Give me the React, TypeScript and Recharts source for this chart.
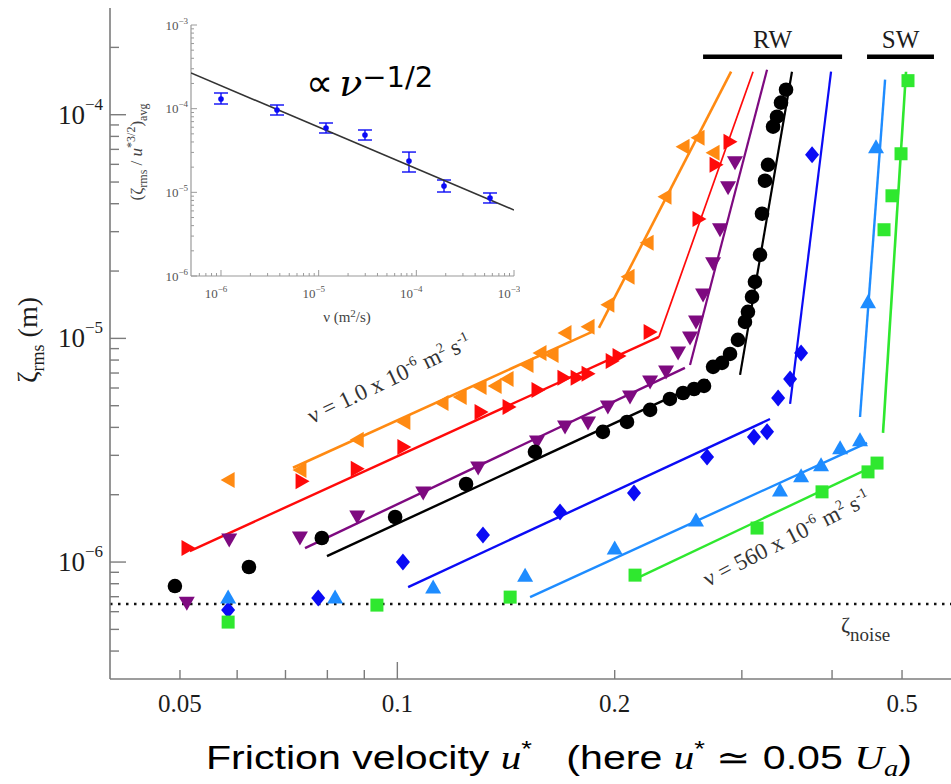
import React from "react";
import { ScatterChart, Scatter, XAxis, YAxis, ReferenceLine, ErrorBar } from "recharts";

type Pt = [number, number];

// ---- main panel: friction velocity u* (m/s) vs rms surface elevation (m) ----
const orangePts: Pt[] = [
  [0.0583, 2.33e-6], [0.0733, 2.58e-6], [0.088, 3.52e-6], [0.1021, 4.23e-6],
  [0.1153, 5.14e-6], [0.1222, 5.47e-6], [0.1302, 6.07e-6], [0.1366, 6.13e-6],
  [0.1419, 6.59e-6], [0.1512, 7.61e-6], [0.1576, 8.61e-6], [0.1638, 8.43e-6],
  [0.1707, 1.058e-5], [0.1837, 1.126e-5], [0.1957, 1.412e-5], [0.2087, 1.884e-5],
  [0.2218, 2.675e-5], [0.2348, 4.295e-5], [0.2487, 7.19e-5], [0.2609, 7.89e-5],
  [0.2737, 6.76e-5],
];
const orangeFitLow: Pt[] = [[0.0717, 2.64e-6], [0.186, 1.069e-5]];
const orangeFitHigh: Pt[] = [[0.1902, 1.114e-5], [0.2899, 1.557e-4]];

const redPts: Pt[] = [
  [0.0513, 1.155e-6], [0.0738, 2.3e-6], [0.088, 2.61e-6], [0.1021, 3.27e-6],
  [0.1306, 4.69e-6], [0.1428, 4.94e-6], [0.1566, 5.88e-6], [0.1701, 6.66e-6],
  [0.1774, 6.66e-6], [0.1837, 6.94e-6], [0.1984, 7.93e-6], [0.2028, 8.35e-6],
  [0.2239, 1.069e-5], [0.2617, 3.42e-5], [0.2763, 5.97e-5], [0.2889, 7.57e-5],
];
const redFitLow: Pt[] = [[0.0516, 1.12e-6], [0.2303, 1.016e-5]];
const redFitHigh: Pt[] = [[0.2303, 1.016e-5], [0.3109, 1.557e-4]];

const purplePts: Pt[] = [
  [0.0511, 6.55e-7], [0.0585, 1.254e-6], [0.0733, 1.281e-6], [0.088, 1.59e-6],
  [0.1086, 2.035e-6], [0.1294, 2.634e-6], [0.1561, 3.44e-6], [0.1707, 4.02e-6],
  [0.1837, 4.19e-6], [0.1957, 4.94e-6], [0.21, 5.47e-6], [0.2239, 6.39e-6],
  [0.2356, 7.08e-6], [0.2448, 8.61e-6], [0.2543, 1.005e-5], [0.2592, 1.185e-5],
  [0.2651, 1.565e-5], [0.2737, 2.155e-5], [0.2798, 3.06e-5], [0.2871, 4.71e-5],
  [0.2935, 6.1e-5],
];
const purpleFitLow: Pt[] = [[0.0745, 1.155e-6], [0.2502, 7.38e-6]];
const purpleFitHigh: Pt[] = [[0.2543, 7.61e-6], [0.3251, 1.589e-4]];

const blackPts: Pt[] = [
  [0.0492, 7.81e-7], [0.0623, 9.5e-7], [0.0786, 1.281e-6], [0.0993, 1.59e-6],
  [0.1245, 2.234e-6], [0.1551, 3.11e-6], [0.1926, 3.82e-6], [0.208, 4.23e-6],
  [0.2239, 4.79e-6], [0.2385, 5.36e-6], [0.2487, 5.7e-6], [0.2576, 5.94e-6],
  [0.2659, 6.13e-6], [0.2737, 7.46e-6], [0.2816, 7.77e-6], [0.2889, 8.52e-6],
  [0.2963, 9.85e-6], [0.303, 1.185e-5], [0.3059, 1.314e-5], [0.3099, 1.533e-5],
  [0.3128, 1.79e-5], [0.3179, 2.363e-5], [0.3199, 3.61e-5], [0.323, 5.07e-5],
  [0.3261, 5.97e-5], [0.3314, 8.84e-5], [0.3356, 9.8e-5], [0.3399, 1.132e-4],
  [0.3454, 1.294e-4],
];
const blackFitLow: Pt[] = [[0.0799, 1.063e-6], [0.2694, 6.52e-6]];
const blackFitHigh: Pt[] = [[0.2983, 6.87e-6], [0.352, 1.557e-4]];

const bluePts: Pt[] = [
  [0.0583, 6.1e-7], [0.0777, 6.9e-7], [0.1018, 1.0e-6], [0.1314, 1.321e-6],
  [0.168, 1.674e-6], [0.2127, 2.035e-6], [0.2685, 2.95e-6], [0.3118, 3.62e-6],
  [0.3251, 3.82e-6], [0.3368, 5.42e-6], [0.3499, 6.59e-6], [0.3624, 8.61e-6],
  [0.3753, 6.62e-5],
];
const blueFitLow: Pt[] = [[0.1035, 7.73e-7], [0.3282, 4.36e-6]];
const blueFitHigh: Pt[] = [[0.3499, 5.09e-6], [0.3987, 1.557e-4]];

const skyPts: Pt[] = [
  [0.0583, 6.97e-7], [0.082, 6.97e-7], [0.1121, 7.73e-7], [0.1503, 8.74e-7],
  [0.2, 1.155e-6], [0.2592, 1.541e-6], [0.3388, 2.1e-6], [0.3624, 2.43e-6],
  [0.3862, 2.72e-6], [0.4104, 3.24e-6], [0.4373, 3.52e-6], [0.4486, 1.457e-5],
  [0.4602, 7.19e-5],
];
const skyFitLow: Pt[] = [[0.1527, 6.97e-7], [0.4472, 3.41e-6]];
const skyFitHigh: Pt[] = [[0.4373, 4.45e-6], [0.4737, 1.434e-4]];

const greenPts: Pt[] = [
  [0.0583, 5.39e-7], [0.0937, 6.42e-7], [0.1433, 6.97e-7], [0.2134, 8.74e-7],
  [0.3149, 1.419e-6], [0.3874, 2.06e-6], [0.4486, 2.53e-6], [0.4617, 2.77e-6],
  [0.4721, 3.06e-5], [0.4842, 4.34e-5], [0.4984, 6.69e-5], [0.5096, 1.42e-4],
];
const greenFitLow: Pt[] = [[0.2148, 8.48e-7], [0.4661, 2.77e-6]];
const greenFitHigh: Pt[] = [[0.4706, 3.78e-6], [0.5064, 1.557e-4]];

const zetaNoise = 6.49e-7;
const rwBar: Pt[] = [[0.2651, 1.817e-4], [0.413, 1.817e-4]];
const swBar: Pt[] = [[0.4472, 1.817e-4], [0.5536, 1.817e-4]];

const uDomain: [number, number] = [0.04, 0.5845];
const zetaDomain: [number, number] = [3e-7, 3e-4];
const uTicks = [0.05, 0.06, 0.07, 0.08, 0.09, 0.1, 0.2, 0.3, 0.4, 0.5];
const uTickLabels = [0.05, 0.1, 0.2, 0.5];
const zetaTicks = [
  4e-7, 5e-7, 6e-7, 7e-7, 8e-7, 9e-7,
  1e-6, 2e-6, 3e-6, 4e-6, 5e-6, 6e-6, 7e-6, 8e-6, 9e-6,
  1e-5, 2e-5, 3e-5, 4e-5, 5e-5, 6e-5, 7e-5, 8e-5, 9e-5,
  1e-4, 2e-4,
];

// ---- inset: normalised amplitude vs kinematic viscosity ----
const nuVals = [1e-6, 3.745e-6, 1.189e-5, 2.98e-5, 8.41e-5, 1.92e-4, 5.68e-4];
const ratioVals = [1.305e-4, 9.64e-5, 5.87e-5, 4.84e-5, 2.37e-5, 1.19e-5, 8.56e-6];
const ratioLow = [1.137e-4, 8.4e-5, 5.12e-5, 4.22e-5, 1.75e-5, 1.009e-5, 7.46e-6];
const ratioHigh = [1.539e-4, 1.106e-4, 6.74e-5, 5.56e-5, 3.03e-5, 1.404e-5, 9.82e-6];
const nuFit: Pt[] = [[4.93e-7, 2.67e-4], [1e-3, 6.15e-6]];
const nuDomain: [number, number] = [4.93e-7, 1e-3];
const ratioDomain: [number, number] = [1e-6, 1e-3];
const decadeMinors = (from: number, to: number) => {
  const out: number[] = [];
  for (let e = from; e < to; e++) {
    for (let m = 1; m <= 9; m++) out.push(m * Math.pow(10, e));
  }
  out.push(Math.pow(10, to));
  return out;
};
const nuTicks = [6e-7, 7e-7, 8e-7, 9e-7, ...decadeMinors(-6, -3)];
const ratioTicks = decadeMinors(-6, -3);

const SERIF = "'Liberation Serif', 'Times New Roman', Times, serif";
const SANS_NARROW = "'Liberation Sans Narrow', 'Arial Narrow', 'Liberation Sans', Arial, sans-serif";
const AXIS = "#7c7c7c";
const INSET_AXIS = "#9a9a9a";
const INK = "#1c1c1c";

const ORANGE = "#ff8a12";
const RED = "#ff0a0a";
const PURPLE = "#7e0a80";
const BLACK = "#000000";
const BLUE = "#0b0bf5";
const SKY = "#1e8cff";
const GREEN = "#2fe82f";

const toXY = (pts: Pt[]) => pts.map(([x, y]) => ({ x, y }));

const isDecade = (v: number) => {
  const e = Math.log10(v);
  return Math.abs(e - Math.round(e)) < 1e-6;
};

type Side = "left" | "right" | "top" | "bottom";
const makeTick =
  (side: Side, major: number, minor: number, color: string, width: number,
   isMajor: (v: number) => boolean, label?: (v: number, x: number, y: number) => React.ReactNode) =>
  (p: any) => {
    const { x, y, payload } = p;
    const v = payload.value as number;
    const len = isMajor(v) ? major : minor;
    let x2 = x;
    let y2 = y;
    if (side === "left") x2 = x + len;
    else if (side === "right") x2 = x - len;
    else if (side === "top") y2 = y + len;
    else y2 = y - len;
    return (
      <g>
        <line x1={x} y1={y} x2={x2} y2={y2} stroke={color} strokeWidth={width} />
        {label ? label(v, x, y) : null}
      </g>
    );
  };

const mainYLabel = (v: number, x: number, y: number) =>
  isDecade(v) ? (
    <text x={x - 7} y={y + 9} textAnchor="end" fontFamily={SERIF} fontSize={27} fill={INK}>
      10
      <tspan dy={-14} fontSize={17}>{`\u2212${Math.abs(Math.round(Math.log10(v)))}`}</tspan>
    </text>
  ) : null;

const mainXLabel = (v: number, x: number, y: number) =>
  uTickLabels.some((t) => Math.abs(t - v) < 1e-9) ? (
    <text x={x} y={y + 33} textAnchor="middle" fontFamily={SERIF} fontSize={25} fill={INK}>
      {String(v)}
    </text>
  ) : null;

const insetYLabel = (v: number, x: number, y: number) =>
  isDecade(v) ? (
    <text x={x - 3} y={y + 4.5} textAnchor="end" fontFamily={SERIF} fontSize={13} fill="#555">
      10
      <tspan dy={-6} fontSize={9}>{`\u2212${Math.abs(Math.round(Math.log10(v)))}`}</tspan>
    </text>
  ) : null;

const insetXLabel = (v: number, x: number, y: number) =>
  isDecade(v) ? (
    <text x={x - 5} y={y + 22} textAnchor="middle" fontFamily={SERIF} fontSize={13} fill="#555">
      10
      <tspan dy={-6} fontSize={9}>{`\u2212${Math.abs(Math.round(Math.log10(v)))}`}</tspan>
    </text>
  ) : null;

const isUMajor = (v: number) => Math.abs(v - 0.1) < 1e-9;

const noMark = () => <g />;

const marker = (kind: string, color: string) => (p: any) => {
  const { cx, cy } = p;
  if (!Number.isFinite(cx) || !Number.isFinite(cy)) return <g />;
  switch (kind) {
    case "left":
      return <polygon points={`${cx - 7.5},${cy} ${cx + 6.5},${cy - 8} ${cx + 6.5},${cy + 8}`} fill={color} />;
    case "right":
      return <polygon points={`${cx + 7.5},${cy} ${cx - 6.5},${cy - 8} ${cx - 6.5},${cy + 8}`} fill={color} />;
    case "down":
      return <polygon points={`${cx - 8},${cy - 6.5} ${cx + 8},${cy - 6.5} ${cx},${cy + 7.5}`} fill={color} />;
    case "up":
      return <polygon points={`${cx - 8},${cy + 6.5} ${cx + 8},${cy + 6.5} ${cx},${cy - 7.5}`} fill={color} />;
    case "diamond":
      return <polygon points={`${cx},${cy - 8.5} ${cx + 7},${cy} ${cx},${cy + 8.5} ${cx - 7},${cy}`} fill={color} />;
    case "square":
      return <rect x={cx - 6.5} y={cy - 6.5} width={13} height={13} fill={color} />;
    default:
      return <circle cx={cx} cy={cy} r={7.3} fill={color} />;
  }
};

const insetDot = (p: any) => {
  const { cx, cy } = p;
  if (!Number.isFinite(cx) || !Number.isFinite(cy)) return <g />;
  return <circle cx={cx} cy={cy} r={2.8} fill={BLUE} />;
};

const fits: { pts: Pt[]; color: string; w: number }[] = [
  { pts: orangeFitLow, color: ORANGE, w: 2.6 },
  { pts: orangeFitHigh, color: ORANGE, w: 2.6 },
  { pts: redFitLow, color: RED, w: 2.4 },
  { pts: redFitHigh, color: RED, w: 1.7 },
  { pts: purpleFitLow, color: PURPLE, w: 2.4 },
  { pts: purpleFitHigh, color: PURPLE, w: 2.2 },
  { pts: blackFitLow, color: BLACK, w: 2.4 },
  { pts: blackFitHigh, color: BLACK, w: 2.2 },
  { pts: blueFitLow, color: BLUE, w: 2.4 },
  { pts: blueFitHigh, color: BLUE, w: 2.2 },
  { pts: skyFitLow, color: SKY, w: 2.4 },
  { pts: skyFitHigh, color: SKY, w: 2.4 },
  { pts: greenFitLow, color: GREEN, w: 2.4 },
  { pts: greenFitHigh, color: GREEN, w: 2.6 },
];

const series: { pts: Pt[]; kind: string; color: string }[] = [
  { pts: orangePts, kind: "left", color: ORANGE },
  { pts: redPts, kind: "right", color: RED },
  { pts: purplePts, kind: "down", color: PURPLE },
  { pts: blackPts, kind: "circle", color: BLACK },
  { pts: bluePts, kind: "diamond", color: BLUE },
  { pts: skyPts, kind: "up", color: SKY },
  { pts: greenPts, kind: "square", color: GREEN },
];

const insetData = nuVals.map((x, i) => ({
  x,
  y: ratioVals[i],
  err: [ratioVals[i] - ratioLow[i], ratioHigh[i] - ratioVals[i]],
}));

function MainChart() {
  return (
    <ScatterChart width={951} height={784} margin={{ top: 8, right: 0, bottom: 0, left: 0 }}>
      <XAxis
        type="number" dataKey="x" scale="log" domain={uDomain} allowDataOverflow
        ticks={uTicks} interval={0} height={105}
        tickLine={false} tickSize={0} tickMargin={0}
        axisLine={{ stroke: AXIS, strokeWidth: 1.6 }}
        tick={makeTick("bottom", 17, 9, AXIS, 1.4, isUMajor, mainXLabel)}
      />
      <XAxis
        xAxisId="top" orientation="top" type="number" dataKey="x" scale="log" domain={uDomain}
        allowDataOverflow ticks={uTicks} interval={0} height={0}
        tickLine={false} tickSize={0} tickMargin={0}
        axisLine={{ stroke: AXIS, strokeWidth: 1.6 }}
        tick={makeTick("top", 12, 7, AXIS, 1.4, isUMajor)}
      />
      <YAxis
        type="number" dataKey="y" scale="log" domain={zetaDomain} allowDataOverflow
        ticks={zetaTicks} interval={0} width={110}
        tickLine={false} tickSize={0} tickMargin={0}
        axisLine={{ stroke: AXIS, strokeWidth: 1.6 }}
        tick={makeTick("left", 16, 9, AXIS, 1.4, isDecade, mainYLabel)}
      />
      <YAxis
        yAxisId="right" orientation="right" type="number" dataKey="y" scale="log" domain={zetaDomain}
        allowDataOverflow ticks={zetaTicks} interval={0} width={0}
        tickLine={false} tickSize={0} tickMargin={0} axisLine={false}
        tick={makeTick("right", 9, 5, AXIS, 1.4, isDecade)}
      />
      <ReferenceLine y={zetaNoise} stroke="#111" strokeWidth={2.6} strokeDasharray="2.5 5.5" />
      <ReferenceLine
        segment={toXY(rwBar)} stroke="#000" strokeWidth={4.5}
        label={{ value: "RW", position: "top", offset: 9, fontSize: 25, fill: INK, fontFamily: SERIF }}
      />
      <ReferenceLine
        segment={toXY(swBar)} stroke="#000" strokeWidth={4.5}
        label={{ value: "SW", position: "top", offset: 9, fontSize: 25, fill: INK, fontFamily: SERIF }}
      />
      {fits.map((f, i) => (
        <Scatter
          key={`fit-${i}`} data={toXY(f.pts)} shape={noMark}
          line={{ stroke: f.color, strokeWidth: f.w }} isAnimationActive={false}
        />
      ))}
      {series.map((s, i) => (
        <Scatter key={`pts-${i}`} data={toXY(s.pts)} shape={marker(s.kind, s.color)} isAnimationActive={false} />
      ))}
    </ScatterChart>
  );
}

function InsetChart() {
  return (
    <ScatterChart width={400} height={320} margin={{ top: 15, right: 6, bottom: 0, left: 0 }}>
      <XAxis
        type="number" dataKey="x" scale="log" domain={nuDomain} allowDataOverflow
        ticks={nuTicks} interval={0} height={54}
        tickLine={false} tickSize={0} tickMargin={0}
        axisLine={{ stroke: INSET_AXIS, strokeWidth: 1.2 }}
        tick={makeTick("bottom", 6, 3, INSET_AXIS, 1, isDecade, insetXLabel)}
      />
      <XAxis
        xAxisId="top" orientation="top" type="number" dataKey="x" scale="log" domain={nuDomain}
        allowDataOverflow ticks={nuTicks} interval={0} height={0}
        tickLine={false} tickSize={0} tickMargin={0}
        axisLine={{ stroke: "#b5b5b5", strokeWidth: 1.2 }}
        tick={makeTick("top", 6, 3, "#b5b5b5", 1, isDecade)}
      />
      <YAxis
        type="number" dataKey="y" scale="log" domain={ratioDomain} allowDataOverflow
        ticks={ratioTicks} interval={0} width={71}
        tickLine={false} tickSize={0} tickMargin={0}
        axisLine={{ stroke: INSET_AXIS, strokeWidth: 1.2 }}
        tick={makeTick("left", 6, 3, INSET_AXIS, 1, isDecade, insetYLabel)}
      />
      <YAxis
        yAxisId="right" orientation="right" type="number" dataKey="y" scale="log" domain={ratioDomain}
        allowDataOverflow ticks={ratioTicks} interval={0} width={0}
        tickLine={false} tickSize={0} tickMargin={0}
        axisLine={{ stroke: "#b5b5b5", strokeWidth: 1.2 }}
        tick={makeTick("right", 6, 3, "#b5b5b5", 1, isDecade)}
      />
      <Scatter data={toXY(nuFit)} shape={noMark} line={{ stroke: "#333", strokeWidth: 1.6 }} isAnimationActive={false} />
      <Scatter data={insetData} shape={insetDot} isAnimationActive={false}>
        <ErrorBar dataKey="err" direction="y" width={7} stroke={BLUE} strokeWidth={1.4} />
      </Scatter>
    </ScatterChart>
  );
}

function Annotations() {
  return (
    <svg width={951} height={784} style={{ position: "absolute", left: 0, top: 0, pointerEvents: "none" }}>
      {/* main y title */}
      <text transform="translate(37,340) rotate(-90)" textAnchor="middle" fontFamily={SERIF} fontSize={28} fill={INK}>
        ζ<tspan dy={7} fontSize={18}>rms</tspan>
        <tspan dy={-7}> (m)</tspan>
      </text>
      {/* main x title */}
      <text
        x={206} y={769} fontFamily={SANS_NARROW} fontSize={33} fill="#000"
        textLength={706} lengthAdjust="spacingAndGlyphs" style={{ whiteSpace: "pre" }}
      >
        {"Friction velocity "}
        <tspan fontFamily={SERIF} fontStyle="italic">u</tspan>
        <tspan dy={-13} fontSize={22}>*</tspan>
        <tspan dy={13}>{"   (here "}</tspan>
        <tspan fontFamily={SERIF} fontStyle="italic">u</tspan>
        <tspan dy={-13} fontSize={22}>*</tspan>
        <tspan dy={13}>{" ≃ 0.05 "}</tspan>
        <tspan fontFamily={SERIF} fontStyle="italic">U</tspan>
        <tspan dy={7} fontSize={23} fontFamily={SERIF} fontStyle="italic">a</tspan>
        <tspan dy={-7}>)</tspan>
      </text>
      {/* viscosity labels along the fitted lines */}
      <text transform="translate(312,424) rotate(-25.5)" fontFamily={SERIF} fontSize={23} fill="#333">
        ν = 1.0 x 10<tspan dy={-9} fontSize={14}>-6</tspan>
        <tspan dy={9}> m</tspan>
        <tspan dy={-9} fontSize={14}>2</tspan>
        <tspan dy={9}> s</tspan>
        <tspan dy={-9} fontSize={14}>-1</tspan>
      </text>
      <text transform="translate(708,587) rotate(-27)" fontFamily={SERIF} fontSize={23} fill="#333">
        ν = 560 x 10<tspan dy={-9} fontSize={14}>-6</tspan>
        <tspan dy={9}> m</tspan>
        <tspan dy={-9} fontSize={14}>2</tspan>
        <tspan dy={9}> s</tspan>
        <tspan dy={-9} fontSize={14}>-1</tspan>
      </text>
      <text x={841} y={632} fontFamily={SERIF} fontSize={22} fill="#333">
        ζ<tspan dy={9} fontSize={19}>noise</tspan>
      </text>
      {/* inset labels */}
      <text x={347} y={322} textAnchor="middle" fontFamily={SERIF} fontSize={15} fill="#444">
        ν (m<tspan dy={-5} fontSize={11}>2</tspan>
        <tspan dy={5}>/s)</tspan>
      </text>
      <text transform="translate(142,152) rotate(-90)" textAnchor="middle" fontFamily={SERIF} fontSize={17} fill="#444">
        (ζ<tspan dy={5} fontSize={12}>rms</tspan>
        <tspan dy={-5}>{" / "}</tspan>
        <tspan fontStyle="italic">u</tspan>
        <tspan dy={-7} fontSize={12}>*3/2</tspan>
        <tspan dy={7}>)</tspan>
        <tspan dy={5} fontSize={12}>avg</tspan>
      </text>
      <text x={306} y={96} fontFamily="'DejaVu Sans', sans-serif" fontSize={38} fill="#000">
        ∝<tspan dx={6} fontFamily="'DejaVu Serif', serif" fontStyle="italic">ν</tspan>
        <tspan dy={-9} fontSize={29}>−1/2</tspan>
      </text>
    </svg>
  );
}

export default function App() {
  return (
    <div style={{ position: "absolute", left: 0, top: 0, width: 951, height: 784, background: "#fff", overflow: "hidden" }}>
      <div style={{ position: "absolute", left: 0, top: 0 }}>
        <MainChart />
      </div>
      <div style={{ position: "absolute", left: 120, top: 10 }}>
        <InsetChart />
      </div>
      <Annotations />
    </div>
  );
}
